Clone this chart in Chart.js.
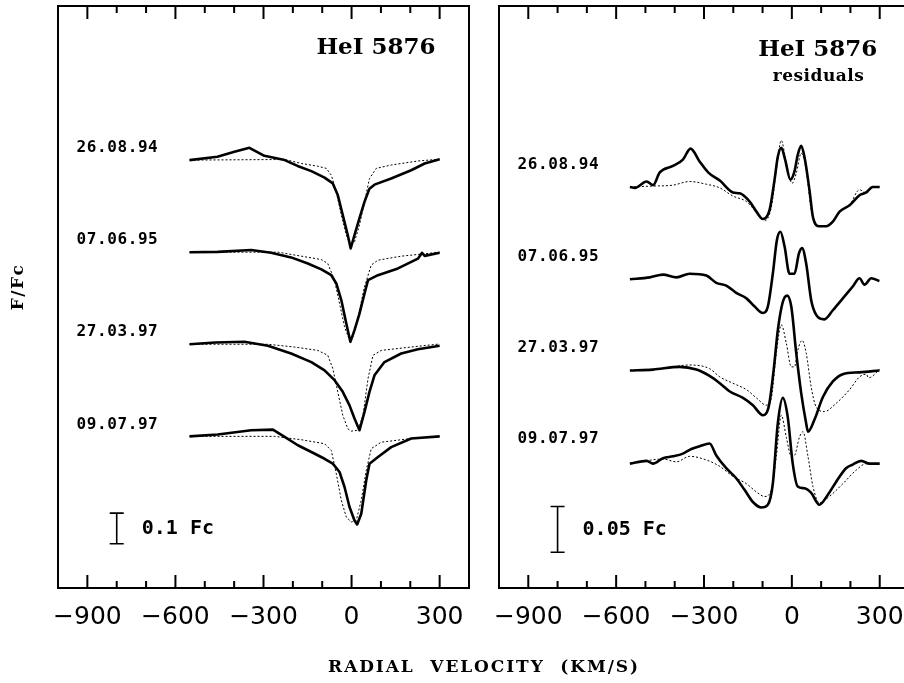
<!DOCTYPE html>
<html><head><meta charset="utf-8">
<script src="https://cdn.jsdelivr.net/npm/chart.js@4.4.1/dist/chart.umd.min.js"></script>
<style>
html,body{margin:0;padding:0;background:#fff;overflow:hidden;width:904px;height:683px;}
canvas{position:absolute;left:0;top:0;}
</style></head><body>
<canvas id="left" width="904" height="683"></canvas>
<canvas id="right" width="910" height="683"></canvas>
<script>
// ---------- tick labels / categories ----------
const xTickValues = [-900, -600, -300, 0, 300];
const xMinorTicks = [-900, -800, -700, -600, -500, -400, -300, -200, -100, 0, 100, 200, 300];
const dates = ['26.08.94', '07.06.95', '27.03.97', '09.07.97'];
const leftOffsets = [0, 0.3, 0.6, 0.9];    // vertical shifts (Fc) in left panel
const rightOffsets = [0, 0.1, 0.2, 0.3];   // vertical shifts (Fc) in residual panel

// ---------- left panel: observed profiles [velocity km/s, F/Fc] ----------
const obs1 = [[-552,1.000],[-457,1.011],[-399,1.027],[-348,1.040],[-297,1.014],[-228,1.000],[-184,0.981],[-137,0.964],[-92,0.943],[-64,0.924],[-47,0.886],[-30,0.821],[-13,0.756],[-3,0.712],[10,0.756],[27,0.811],[44,0.864],[61,0.907],[78,0.920],[135,0.940],[203,0.967],[249,0.989],[300,1.003]];
const obs2 = [[-552,1.000],[-456,1.001],[-342,1.007],[-274,0.998],[-206,0.983],[-149,0.963],[-103,0.944],[-69,0.925],[-52,0.898],[-35,0.844],[-18,0.768],[-4,0.708],[10,0.746],[27,0.800],[44,0.865],[56,0.909],[90,0.925],[158,0.947],[226,0.979],[240,0.998],[249,0.988],[300,0.998]];
const obs3 = [[-552,1.000],[-464,1.006],[-365,1.008],[-285,0.995],[-206,0.970],[-137,0.942],[-92,0.915],[-58,0.883],[-30,0.845],[-7,0.801],[10,0.758],[27,0.720],[44,0.780],[61,0.845],[78,0.899],[112,0.942],[169,0.970],[226,0.984],[300,0.995]];
const obs4 = [[-552,1.000],[-456,1.006],[-342,1.020],[-268,1.022],[-228,0.998],[-183,0.971],[-137,0.949],[-92,0.927],[-64,0.911],[-41,0.884],[-24,0.835],[-7,0.770],[10,0.726],[19,0.713],[33,0.748],[50,0.857],[61,0.911],[90,0.933],[135,0.965],[203,0.993],[300,1.000]];
// ---------- left panel: model profiles (dotted) ----------
const mod1 = [[-552,1.000],[-228,1.002],[-171,0.989],[-115,0.980],[-86,0.973],[-69,0.951],[-52,0.897],[-35,0.821],[-18,0.756],[-4,0.723],[10,0.734],[27,0.788],[44,0.864],[61,0.940],[84,0.973],[135,0.984],[226,0.997],[300,1.003]];
const mod2 = [[-552,1.000],[-250,1.000],[-171,0.987],[-103,0.976],[-81,0.963],[-58,0.909],[-41,0.833],[-24,0.757],[-7,0.713],[5,0.724],[22,0.789],[44,0.887],[67,0.958],[90,0.974],[169,0.987],[300,1.000]];
const mod3 = [[-552,1.000],[-285,1.000],[-194,0.991],[-115,0.980],[-81,0.964],[-64,0.921],[-47,0.845],[-30,0.769],[-13,0.725],[-1,0.717],[22,0.720],[39,0.769],[56,0.888],[73,0.964],[101,0.980],[203,0.991],[300,1.001]];
const mod4 = [[-552,1.000],[-262,1.000],[-171,0.989],[-92,0.976],[-69,0.954],[-52,0.878],[-35,0.792],[-18,0.737],[-1,0.721],[16,0.726],[33,0.792],[50,0.889],[67,0.960],[101,0.981],[203,0.993],[300,1.000]];

// ---------- right panel: residuals (solid) ----------
const res1 = [[-553,0.000],[-536,-0.001],[-496,0.006],[-474,0.002],[-451,0.016],[-406,0.023],[-372,0.030],[-346,0.042],[-315,0.028],[-286,0.016],[-246,0.007],[-201,-0.006],[-178,-0.007],[-144,-0.016],[-121,-0.027],[-99,-0.035],[-76,-0.025],[-59,0.008],[-48,0.033],[-36,0.043],[-23,0.030],[-5,0.008],[9,0.017],[20,0.035],[32,0.045],[43,0.033],[60,-0.003],[72,-0.033],[94,-0.043],[117,-0.043],[140,-0.038],[163,-0.027],[197,-0.020],[231,-0.009],[254,-0.006],[276,0.000],[300,0.000]];
const res2 = [[-553,-0.001],[-485,0.001],[-440,0.004],[-394,0.001],[-349,0.005],[-292,0.003],[-258,-0.005],[-224,-0.008],[-190,-0.016],[-155,-0.022],[-127,-0.031],[-99,-0.038],[-82,-0.031],[-65,0.005],[-51,0.042],[-39,0.051],[-25,0.035],[-8,0.005],[9,0.005],[24,0.027],[35,0.033],[49,0.016],[66,-0.024],[83,-0.040],[111,-0.045],[140,-0.035],[174,-0.022],[208,-0.009],[231,0.000],[248,-0.007],[271,0.000],[299,-0.003]];
const res3 = [[-553,-0.001],[-474,0.000],[-383,0.003],[-326,0.000],[-281,-0.007],[-246,-0.015],[-212,-0.024],[-167,-0.031],[-133,-0.039],[-99,-0.050],[-78,-0.039],[-62,0.000],[-48,0.043],[-31,0.074],[-16,0.081],[-2,0.069],[15,0.018],[32,-0.026],[49,-0.059],[55,-0.068],[77,-0.055],[106,-0.030],[140,-0.013],[174,-0.005],[231,-0.003],[299,-0.001]];
const res4 = [[-553,-0.003],[-496,0.000],[-474,-0.003],[-440,0.003],[-406,0.005],[-372,0.008],[-343,0.013],[-315,0.016],[-281,0.019],[-258,0.006],[-224,-0.008],[-190,-0.019],[-161,-0.032],[-133,-0.045],[-104,-0.051],[-82,-0.048],[-65,-0.025],[-48,0.041],[-31,0.069],[-14,0.048],[3,-0.003],[20,-0.028],[43,-0.030],[66,-0.035],[94,-0.048],[123,-0.037],[151,-0.023],[185,-0.008],[208,-0.004],[237,0.000],[265,-0.003],[300,-0.003]];
// ---------- right panel: residual models (dotted); none for 07.06.95 ----------
const resMod1 = [[-553,0.000],[-474,0.001],[-406,0.002],[-349,0.006],[-292,0.003],[-246,-0.001],[-201,-0.010],[-155,-0.016],[-110,-0.032],[-93,-0.037],[-70,-0.022],[-53,0.019],[-36,0.051],[-19,0.026],[1,0.004],[15,0.015],[32,0.037],[49,0.019],[66,-0.025],[90,-0.043],[117,-0.043],[140,-0.038],[163,-0.027],[197,-0.020],[231,-0.003],[254,-0.007],[276,0.000],[300,0.000]];
const resMod3 = [[-553,-0.001],[-451,0.001],[-349,0.005],[-281,0.001],[-246,-0.008],[-201,-0.015],[-155,-0.022],[-121,-0.031],[-87,-0.039],[-70,-0.031],[-53,0.018],[-36,0.049],[-19,0.029],[-2,0.003],[9,0.003],[20,0.021],[35,0.032],[49,0.018],[66,-0.019],[83,-0.041],[111,-0.046],[151,-0.037],[197,-0.022],[231,-0.008],[254,-0.005],[262,-0.009],[300,0.000]];
const resMod4 = [[-553,-0.003],[-440,0.002],[-394,-0.001],[-349,0.005],[-292,0.001],[-246,-0.006],[-201,-0.017],[-155,-0.025],[-121,-0.034],[-93,-0.039],[-70,-0.032],[-53,0.005],[-36,0.050],[-19,0.026],[-2,0.005],[9,0.006],[26,0.026],[38,0.032],[55,0.005],[72,-0.028],[94,-0.046],[128,-0.039],[174,-0.025],[220,-0.010],[254,-0.003],[300,-0.003]];

const leftObs = [obs1, obs2, obs3, obs4];
const leftMod = [mod1, mod2, mod3, mod4];
const rightObs = [res1, res2, res3, res4];
const rightMod = [resMod1, null, resMod3, resMod4];

// ---------- helpers ----------
const SERIF = '"DejaVu Serif", serif';
const SANSMONO = '"DejaVu Sans Mono", monospace';
function pts(arr, off) { return arr.map(([v, f]) => ({x: v, y: f - off})); }
function solid(arr, off) {
  return {data: pts(arr, off), borderColor: '#000', borderWidth: 2.6, pointRadius: 0,
          borderJoinStyle: 'round', fill: false, tension: 0};
}
function dotted(arr, off) {
  return {data: pts(arr, off), borderColor: '#000', borderWidth: 1, borderDash: [2, 2],
          pointRadius: 0, fill: false, tension: 0};
}
function xScale() {
  return {
    type: 'linear', min: -1000, max: 400,
    afterBuildTicks: s => { s.ticks = xTickValues.map(v => ({value: v})); },
    afterFit: s => { s.height = 95; s.paddingLeft = 0; s.paddingRight = 0; },
    grid: {display: false, drawTicks: false}, border: {display: false},
    ticks: {color: '#000', padding: 14, autoSkip: false, maxRotation: 0,
            font: {family: '"DejaVu Sans", sans-serif', size: 25},
            callback: v => (v < 0 ? '\u2212' + Math.abs(v) : String(v))}
  };
}
function text(ctx, str, x, y, font, align, spacing) {
  ctx.save();
  ctx.font = font; ctx.textAlign = align || 'left'; ctx.textBaseline = 'middle';
  if (spacing) ctx.letterSpacing = spacing + 'px';
  ctx.fillText(str, x, y);
  ctx.restore();
}
function framePlugin(opts) {
  return {
    id: 'frame',
    afterDatasetsDraw(chart) {
      const ctx = chart.ctx, a = chart.chartArea, xs = chart.scales.x, ys = chart.scales.y;
      ctx.save();
      ctx.strokeStyle = '#000'; ctx.fillStyle = '#000'; ctx.lineWidth = 2;
      ctx.setLineDash([]);
      ctx.beginPath();
      xMinorTicks.forEach(v => {
        const px = xs.getPixelForValue(v);
        const len = (v % 300 === 0) ? 13 : 7;
        ctx.moveTo(px, a.top); ctx.lineTo(px, a.top + len);
        ctx.moveTo(px, a.bottom); ctx.lineTo(px, a.bottom - len);
      });
      ctx.stroke();
      ctx.strokeRect(a.left, a.top, a.right - a.left, a.bottom - a.top);
      // scale bar
      const bx = xs.getPixelForValue(opts.barV);
      const b0 = ys.getPixelForValue(opts.barLow), b1 = ys.getPixelForValue(opts.barLow + opts.barSize);
      ctx.lineWidth = 1.6;
      ctx.beginPath();
      ctx.moveTo(bx, b0); ctx.lineTo(bx, b1);
      ctx.moveTo(bx - 7, b0); ctx.lineTo(bx + 7, b0);
      ctx.moveTo(bx - 7, b1); ctx.lineTo(bx + 7, b1);
      ctx.stroke();
      ctx.restore();
      ctx.fillStyle = '#000';
      text(ctx, opts.barLabel, bx + 25, (b0 + b1) / 2, 'bold 20px ' + SANSMONO, 'left', 0);
      // date labels
      dates.forEach((d, i) => {
        text(ctx, d, xs.getPixelForValue(-937), ys.getPixelForValue(opts.labelY[i]),
             'bold 16px ' + SANSMONO, 'left', 0.6);
      });
      // titles
      text(ctx, 'HeI 5876', xs.getPixelForValue(opts.titleV), a.top + opts.titleDy,
           'bold 23px ' + SERIF, 'right', 0);
      if (opts.sub) text(ctx, opts.sub, xs.getPixelForValue(opts.subV), a.top + opts.subDy,
           'bold 17px ' + SERIF, 'center', 0.5);
      if (opts.axisTitles) {
        text(ctx, 'RADIAL  VELOCITY  (KM/S)', 484, 668, 'bold 17px ' + SERIF, 'center', 1.9);
        ctx.save();
        ctx.translate(19, 287); ctx.rotate(-Math.PI / 2);
        text(ctx, 'F/Fc', 0, 0, 'bold 17px ' + SERIF, 'center', 1.5);
        ctx.restore();
      }
    }
  };
}

// ---------- left chart ----------
const leftSets = [];
leftObs.forEach((o, i) => { leftSets.push(dotted(leftMod[i], leftOffsets[i])); leftSets.push(solid(o, leftOffsets[i])); });
new Chart(document.getElementById('left'), {
  type: 'line',
  data: {datasets: leftSets},
  options: {
    responsive: false, animation: false, devicePixelRatio: 1,
    layout: {padding: {left: 58, right: 904 - 469, top: 6, bottom: 0}},
    plugins: {legend: {display: false}, tooltip: {enabled: false}},
    scales: {x: xScale(), y: {type: 'linear', display: false, min: -0.394, max: 1.502}}
  },
  plugins: [framePlugin({barV: -800, barLow: -0.25, barSize: 0.1, barLabel: '0.1 Fc',
    labelY: leftOffsets.map(o => 1.039 - o), titleV: 286, titleDy: 42, axisTitles: true})]
});

// ---------- right chart ----------
const rightSets = [];
rightObs.forEach((o, i) => {
  if (rightMod[i]) rightSets.push(dotted(rightMod[i], rightOffsets[i]));
  rightSets.push(solid(o, rightOffsets[i]));
});
rightSets.forEach(s => { s.cubicInterpolationMode = 'monotone'; });
new Chart(document.getElementById('right'), {
  type: 'line',
  data: {datasets: rightSets},
  options: {
    responsive: false, animation: false, devicePixelRatio: 1,
    layout: {padding: {left: 499, right: 1, top: 6, bottom: 0}},
    plugins: {legend: {display: false}, tooltip: {enabled: false}},
    scales: {x: xScale(), y: {type: 'linear', display: false, min: -0.4392, max: 0.1982}}
  },
  plugins: [framePlugin({barV: -800, barLow: -0.40, barSize: 0.05, barLabel: '0.05 Fc',
    labelY: rightOffsets.map(o => 0.024 - o), titleV: 292, titleDy: 44,
    sub: 'residuals', subV: 91, subDy: 71, axisTitles: false})]
});
</script></body></html>
